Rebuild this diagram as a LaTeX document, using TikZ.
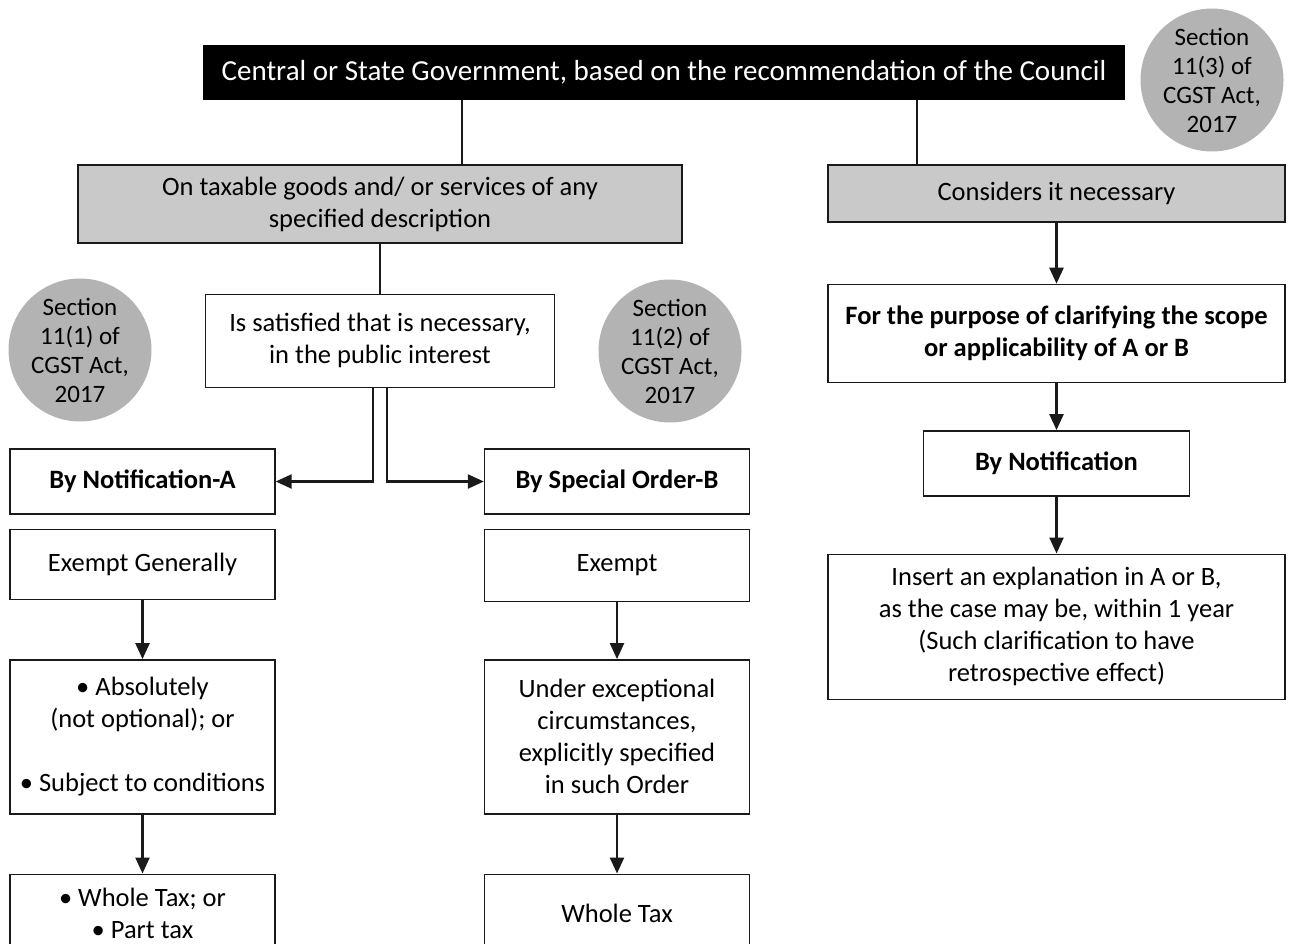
\documentclass[tikz,border=0pt]{standalone}
\usepackage{fontspec}
\setmainfont{Carlito}
\usetikzlibrary{arrows.meta,positioning}
\definecolor{boxgray}{HTML}{C9C9C9}
\definecolor{secgray}{HTML}{B3B3B3}
\definecolor{edge}{HTML}{1A1A1A}
\newcommand\bodyfont{\fontsize{26.5}{32}\selectfont}

\begin{document}
\begin{tikzpicture}[
  x=1pt, y=1pt, font=\bodyfont, node distance=14pt,
  box/.style={draw=edge, line width=1.4pt, align=center, inner sep=3pt,
              fill=white, minimum width=265pt},
  wide/.style={box, minimum width=457pt},
  shade/.style={box, fill=boxgray},
  head/.style={box, font=\bodyfont\bfseries},
  sec/.style={circle, fill=secgray, minimum size=143pt, inner sep=0pt,
              align=center, font=\fontsize{25}{29}\selectfont},
  ln/.style={line width=2pt, edge},
  arr/.style={-{Triangle[length=16pt, width=14pt]}, line width=2.4pt, edge},
]
\useasboundingbox (0,0) rectangle (1290,-944);
% ---------------- top -----------------
\node[fill=black, text=white, minimum width=922pt, minimum height=55pt, inner sep=0pt,
      font=\fontsize{29}{32}\selectfont] (gov) at (664,-72.5)
  {Central or State Government, based on the recommendation of the Council};
\node[sec] (sec3) at (1212,-80) {Section\\11(3) of\\CGST Act,\\2017};
\node[shade, minimum width=604pt, minimum height=78pt] (tax) at (380,-204)
  {On taxable goods and/ or services of any\\specified description};
\node[shade, minimum width=457pt, minimum height=57pt] (cons) at (1056.5,-193.5) {Considers it necessary};
\draw[ln] ([xshift=82pt]tax.north) -- ([xshift=82pt]tax.north |- gov.south);
\draw[ln] ([xshift=-140pt]cons.north) -- ([xshift=-140pt]cons.north |- gov.south);
% ---------------- exemption -----------------
\node[box, minimum width=349pt, minimum height=93pt, below=50pt of tax] (sat)
  {Is satisfied that is necessary,\\in the public interest};
\node[sec] (sec1) at (80,-350) {Section\\11(1) of\\CGST Act,\\2017};
\node[sec] (sec2) at (670,-351) {Section\\11(2) of\\CGST Act,\\2017};
\node[head, minimum height=65pt] (notA) at (142.5,-481.5) {By Notification-A};
\node[box, below=of notA, minimum height=70pt] (exA) {Exempt Generally};
\node[box, below=59pt of exA, minimum height=154pt] (absA)
  {• Absolutely\\(not optional); or\\[0pt]\mbox{}\\• Subject to conditions};
\node[box, below=59pt of absA, minimum height=78pt] (wholeA) {• Whole Tax; or\\• Part tax};
\node[head, minimum height=65pt] (spB) at (617,-481.5) {By Special Order-B};
\node[box, below=of spB, minimum height=72pt] (exB) {Exempt};
\node[box, below=57pt of exB, minimum height=154pt] (undB)
  {Under exceptional\\circumstances,\\explicitly specified\\in such Order};
\node[box, below=59pt of undB, minimum height=78pt] (wholeB) {Whole Tax};
\draw[ln] (tax) -- (sat);
\draw[arr] ([xshift=-7pt]sat.south) |- (notA);
\draw[arr] ([xshift=7pt]sat.south) |- (spB);
\draw[arr] (exA) -- (absA);
\draw[arr] (absA) -- (wholeA);
\draw[arr] (exB) -- (undB);
\draw[arr] (undB) -- (wholeB);
% ---------------- clarification -----------------
\node[wide, font=\bodyfont\bfseries, minimum height=98pt, below=61pt of cons] (purp)
  {For the purpose of clarifying the scope\\or applicability of A or B};
\node[head, minimum width=266pt, minimum height=65pt, below=47pt of purp] (bynot) {By Notification};
\node[wide, minimum height=145pt, below=57pt of bynot] (expl)
  {Insert an explanation in A or B,\\as the case may be, within 1 year\\(Such clarification to have\\retrospective effect)};
\draw[arr] (cons) -- (purp);
\draw[arr] (purp) -- (bynot);
\draw[arr] (bynot) -- (expl);
\end{tikzpicture}
\end{document}
